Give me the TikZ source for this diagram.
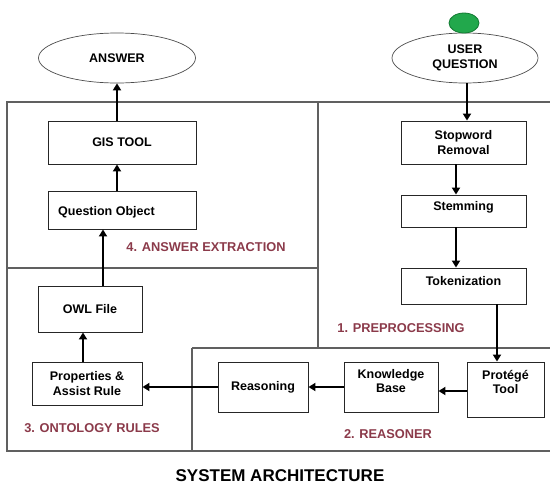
\documentclass[tikz,border=0pt]{standalone}
\usepackage{fontspec}
\setmainfont{Liberation Sans}
\usetikzlibrary{shapes.geometric,arrows.meta,calc}
\definecolor{seclab}{HTML}{8B3A4A}
\definecolor{frameg}{HTML}{606060}
\definecolor{gfill}{HTML}{22A84C}
\definecolor{gdraw}{HTML}{137A33}
\newcommand{\boxfont}{\fontsize{12.5}{14.5}\selectfont\bfseries}
\tikzset{
  boxnode/.style={draw=black!85, line width=0.9pt, rectangle, align=center, inner sep=0pt,
    font=\boxfont},
  boxtext/.style={font=\boxfont, align=center, inner sep=0pt},
  ellnode/.style={draw=black!70, line width=0.7pt, ellipse, align=center, inner sep=0pt,
    font=\fontsize{12.5}{15}\selectfont\bfseries},
  seclabel/.style={text=seclab, font=\fontsize{12.8}{15}\selectfont\bfseries},
  framel/.style={draw=frameg, line width=1.3pt},
  arr/.style={line width=2.1pt, -{Triangle[width=8pt,length=7pt]}}
}
\begin{document}
\begin{tikzpicture}[x=1pt,y=-1pt]
\useasboundingbox (0,0) rectangle (550,485);
% frames
\draw[framel] (551,102) -- (7,102) -- (7,451) -- (551,451);
\draw[framel] (7,268) -- (318,268);
\draw[framel] (318,102) -- (318,348);
\draw[framel] (192,348) -- (551,348);
\draw[framel] (192,348) -- (192,451);
% ellipses
\node[ellnode, minimum width=157, minimum height=50] (ans) at (117,58) {ANSWER};
\node[ellnode, minimum width=146, minimum height=50] (uq) at (465,58) {USER\\QUESTION};
\node[ellipse, fill=gfill, draw=gdraw, line width=0.8pt, minimum width=30, minimum height=20, inner sep=0pt] (start) at (464,23) {};
% boxes
\node[boxnode, minimum width=148, minimum height=43] (gis) at (122,142.5) {GIS TOOL};
\node[boxnode, minimum width=148, minimum height=38] (qo) at (122,210) {};
\node[boxtext, anchor=west] (qot) at (58,212) {Question Object};
\node[boxnode, minimum width=104, minimum height=46] (owl) at (90,309) {OWL File};
\node[boxnode, minimum width=110, minimum height=43] (props) at (87,383.5) {Properties \&\\Assist Rule};
\node[boxnode, minimum width=90, minimum height=50] (reas) at (263,387) {Reasoning};
\node[boxnode, minimum width=94, minimum height=50] (kb) at (391,387) {};
\node[boxtext] (kbt) at (391,381) {Knowledge\\Base};
\node[boxnode, minimum width=77, minimum height=55] (prot) at (505.5,389.5) {};
\node[boxtext] (prott) at (505.5,382) {Protégé\\Tool};
\node[boxnode, minimum width=125, minimum height=43] (sw) at (463.5,142.5) {Stopword\\Removal};
\node[boxnode, minimum width=125, minimum height=32] (stem) at (463.5,211) {};
\node[boxtext] (stemt) at (463.5,207) {Stemming};
\node[boxnode, minimum width=125, minimum height=36] (tok) at (463.5,286) {};
\node[boxtext] (tokt) at (463.5,281) {Tokenization};
% section labels
\node[seclabel] (l4) at (206,247) {4. ANSWER EXTRACTION};
\node[seclabel] (l1) at (401,328) {1. PREPROCESSING};
\node[seclabel] (l2) at (388,434) {2. REASONER};
\node[seclabel] (l3) at (92,428) {3. ONTOLOGY RULES};
\node[font=\fontsize{17}{20}\selectfont\bfseries, inner sep=0pt, anchor=base] (title) at (280,481.5) {SYSTEM ARCHITECTURE};
% helper coordinates
\coordinate (cowl) at (103,0);
\coordinate (cprop) at (83,0);
\coordinate (cpk) at (0,391);
\coordinate (cstem) at (456,0);
\coordinate (ctok) at (497,0);
\coordinate (cuq) at (467,0);
% arrows
\draw[arr] (gis.north -| ans.south) -- (ans.south);
\draw[arr] (qo.north -| ans.south) -- (gis.south -| ans.south);
\draw[arr] (owl.north -| cowl) -- (qo.south -| cowl);
\draw[arr] (props.north -| cprop) -- (owl.south -| cprop);
\draw[arr] (reas.west) -- (props.east |- reas.west);
\draw[arr] (kb.west) -- (reas.east);
\draw[arr] (prot.west |- cpk) -- (kb.east |- cpk);
\draw[arr] (uq.south -| cuq) -- (sw.north -| cuq);
\draw[arr] (sw.south -| cstem) -- (stem.north -| cstem);
\draw[arr] (stem.south -| cstem) -- (tok.north -| cstem);
\draw[arr] (tok.south -| ctok) -- (prot.north -| ctok);
\end{tikzpicture}
\end{document}
